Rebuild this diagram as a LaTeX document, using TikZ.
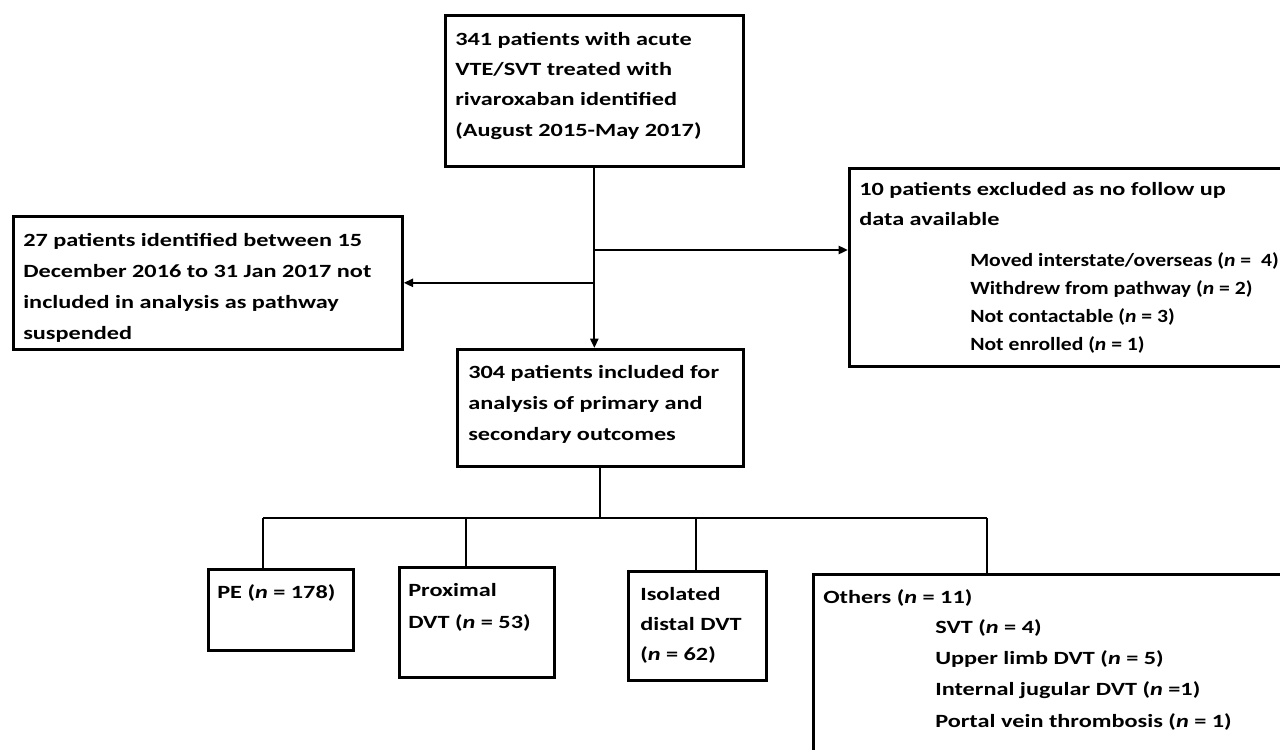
\documentclass[tikz,border=0pt]{standalone}
\usepackage{fontspec}
\setmainfont{Carlito}[FakeStretch=1.3]
\newfontfamily\narrowfont{Carlito}[FakeStretch=1.16]
\usetikzlibrary{arrows.meta}
\begin{document}
\begin{tikzpicture}[x=0.75pt,y=-0.75pt,
  box/.style={draw=black, line width=2pt, rectangle, inner sep=0pt, anchor=north west},
  txt/.style={anchor=base west, inner sep=0pt, align=left},
  conn/.style={line width=1.7pt},
  arr/.style={conn, -{Triangle[length=7pt,width=6pt]}}]
\fill[white] (0,0) rectangle (1280,749);
\useasboundingbox (0,0) rectangle (1280,749);
% boxes
\node[box, minimum width=223.5pt, minimum height=113.25pt] (top) at (444,14) {};
\node[box, minimum width=291.75pt, minimum height=99.75pt] (left) at (12,215) {};
\node[box, minimum width=339pt, minimum height=148.5pt] (right) at (848,167) {};
\node[box, minimum width=214.5pt, minimum height=87.75pt] (n304) at (456,348) {};
\node[box, minimum width=108.75pt, minimum height=60.75pt] (pe) at (207,568) {};
\node[box, minimum width=116.25pt, minimum height=82.5pt] (prox) at (398,566) {};
\node[box, minimum width=103.5pt, minimum height=81.75pt] (iso) at (627,570) {};
\node[box, minimum width=366pt, minimum height=140.25pt] (oth) at (812,573) {};
% texts (anchor = baseline of the last line)
\begin{scope}[every node/.style={font=\fontsize{14pt}{22.7pt}\selectfont\bfseries}]
\node[txt] (ttop) at (455,136) {341 patients with acute\\VTE/SVT treated with\\rivaroxaban identified\\(August 2015-May 2017)};
\node[txt, font=\fontsize{14pt}{23.25pt}\selectfont\bfseries] (tleft) at (23,339) {27 patients identified between 15\\December 2016 to 31 Jan 2017 not\\included in analysis as pathway\\suspended};
\node[txt, font=\fontsize{14pt}{23.25pt}\selectfont\bfseries] (t304) at (468,440) {304 patients included for\\analysis of primary and\\secondary outcomes};
\node[txt, font=\fontsize{14pt}{22.5pt}\selectfont\bfseries] (trh) at (859,225) {10 patients excluded as no follow up\\data available};
\node[txt, font=\narrowfont\fontsize{14pt}{20.8pt}\selectfont\bfseries] (trl) at (970,350) {Moved interstate/overseas (\textit{n} =~ 4)\\Withdrew from pathway (\textit{n} = 2)\\Not contactable (\textit{n} = 3)\\Not enrolled (\textit{n} = 1)};
\node[txt] (tpe) at (217,598) {PE (\textit{n} = 178)};
\node[txt, font=\fontsize{14pt}{24pt}\selectfont\bfseries] (tprox) at (408,628) {Proximal\\DVT (\textit{n} = 53)};
\node[txt, font=\fontsize{14pt}{22.5pt}\selectfont\bfseries] (tiso) at (640,660) {Isolated\\distal DVT\\(\textit{n} = 62)};
\node[txt] (toh) at (823,603) {Others (\textit{n} = 11)};
\node[txt, font=\fontsize{14pt}{23.4pt}\selectfont\bfseries] (tol) at (935,727) {SVT (\textit{n} = 4)\\Upper limb DVT (\textit{n} = 5)\\Internal jugular DVT (\textit{n} =1)\\Portal vein thrombosis (\textit{n} = 1)};
\end{scope}
% connectors
\coordinate (ry) at (0,250);
\coordinate (bus) at (0,518);
\coordinate (d1) at (263,518);
\coordinate (d2) at (466,518);
\coordinate (d3) at (696,518);
\coordinate (d4) at (987,518);
\draw[arr] (top.south) -- (top.south |- n304.north);
\draw[arr] (top.south |- left.east) -- (left.east);
\draw[arr] (top.south |- ry) -- (right.west |- ry);
\draw[conn] (n304.south) -- (n304.south |- bus);
\draw[conn] (d1) -- (d4);
\draw[conn] (d1) -- (d1 |- pe.north);
\draw[conn] (d2) -- (d2 |- prox.north);
\draw[conn] (d3) -- (d3 |- iso.north);
\draw[conn] (d4) -- (d4 |- oth.north);
\end{tikzpicture}
\end{document}
